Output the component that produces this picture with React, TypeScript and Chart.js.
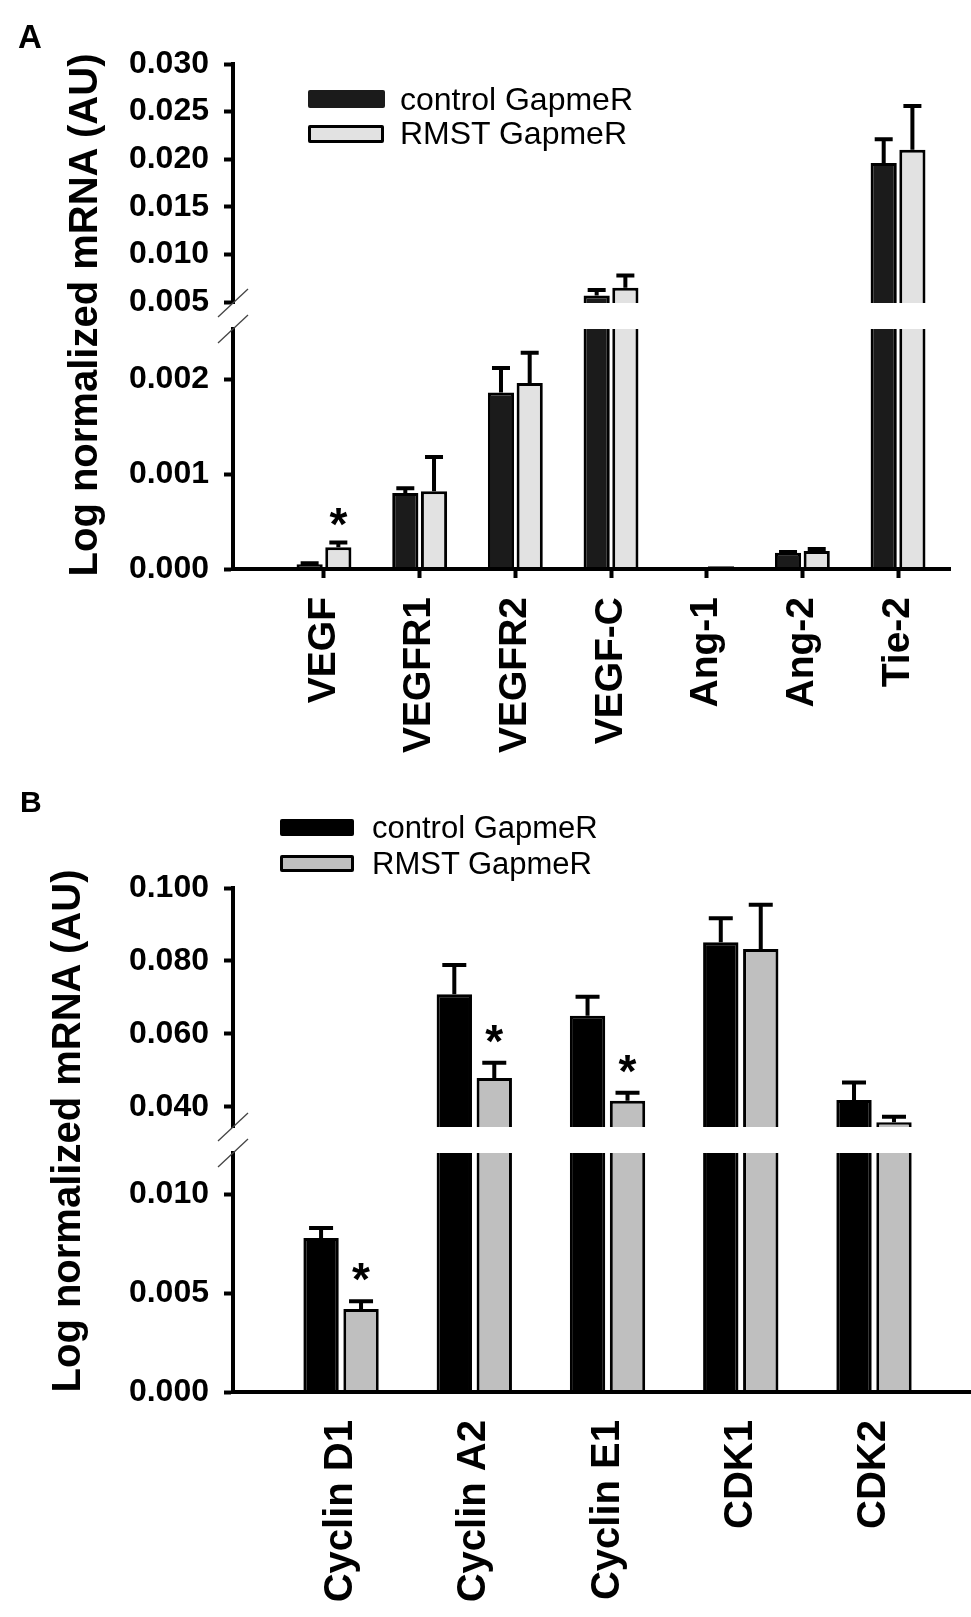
import { useEffect, useRef } from "react";
import Chart from "chart.js/auto";

// ---------- panel A: angiogenic factors ----------
const genesA = ["VEGF", "VEGFR1", "VEGFR2", "VEGF-C", "Ang-1", "Ang-2", "Tie-2"];
const controlA = [0.00005, 0.0008, 0.00186, 0.0057, 0.00002, 0.00017, 0.0196];
const controlErrA = [0.00001, 0.00005, 0.00026, 0.00056, 0, 0.00001, 0.0025];
const rmstA = [0.00023, 0.00082, 0.00196, 0.0065, 0.00003, 0.00019, 0.021];
const rmstErrA = [0.00005, 0.00036, 0.00032, 0.0013, 0, 0.00002, 0.0046];
const starsA = [true, false, false, false, false, false, false];
const topTicksA = [0.005, 0.01, 0.015, 0.02, 0.025, 0.03];
const bottomTicksA = [0, 0.001, 0.002];

// ---------- panel B: cell cycle genes ----------
const genesB = ["Cyclin D1", "Cyclin A2", "Cyclin E1", "CDK1", "CDK2"];
const controlB = [0.0078, 0.0709, 0.065, 0.0851, 0.0419];
const controlErrB = [0.0005, 0.008, 0.0052, 0.0066, 0.0048];
const rmstB = [0.0042, 0.0479, 0.0417, 0.0833, 0.0358];
const rmstErrB = [0.0004, 0.0042, 0.0022, 0.0121, 0.0015];
const starsB = [true, true, true, false, false];
const topTicksB = [0.04, 0.06, 0.08, 0.1];
const bottomTicksB = [0, 0.005, 0.01];

const FONT = '"Liberation Sans", Arial, Helvetica, sans-serif';
const AXIS_TITLE = "Log normalized mRNA (AU)";

interface Segment {
  min: number;
  max: number;
  ticks: number[];
}

interface Look {
  top: number;
  height: number;
  padTop: number;
  padRight: number;
  yWidth: number;
  xHeight: number;
  weights: [number, number, number];
  xPadLeft: number;
  xPadRight: number;
  catPct: number;
  barPct: number;
  ctrlFill: string;
  rmstFill: string;
  labelSize: number;
  labelPad: number;
  xTicks: boolean;
  cap: number;
  starLift: number;
}

interface PanelProps {
  genes: string[];
  control: number[];
  controlErr: number[];
  rmst: number[];
  rmstErr: number[];
  stars: boolean[];
  upper: Segment;
  lower: Segment;
  look: Look;
}

function BrokenBarPanel(props: PanelProps) {
  const canvasRef = useRef<HTMLCanvasElement | null>(null);
  const { look } = props;

  useEffect(() => {
    const canvas = canvasRef.current;
    if (!canvas) return;
    const { genes, control, controlErr, rmst, rmstErr, stars, upper, lower } = props;
    const n = genes.length;

    const points = (vals: (number | null)[]) => vals.map((y, i) => ({ x: i + 1, y }));
    const lowerPart = (vals: number[]) => vals.map((v) => Math.min(v, lower.max));
    const upperPart = (vals: number[]) => vals.map((v) => (v >= upper.min ? v : null));
    // bars cut by the axis break lose their top edge in the lower segment
    const cutBorder = (vals: number[]) => (ctx: any) =>
      vals[ctx.dataIndex] > lower.max ? { left: 3, right: 3, top: 0, bottom: 0 } : 3;

    const common = {
      borderColor: "#000",
      categoryPercentage: look.catPct,
      barPercentage: look.barPct,
      borderSkipped: "start" as const,
    };

    const yScale = (seg: Segment, weight: number, stackWeight: number) => ({
      type: "linear" as const,
      position: "left" as const,
      stack: "y",
      stackWeight,
      weight,
      stacked: false,
      min: seg.min,
      max: seg.max,
      afterBuildTicks: (s: any) => {
        s.ticks = seg.ticks.map((value) => ({ value }));
      },
      afterFit: (s: any) => {
        s.width = look.yWidth;
      },
      ticks: {
        autoSkip: false,
        padding: 15,
        color: "#000",
        font: { family: FONT, size: 32, weight: "bold" as const },
        callback: (v: any) => Number(v).toFixed(3),
      },
      grid: { drawOnChartArea: false, tickLength: 9, tickWidth: 4, tickColor: "#000" },
      border: { display: true, color: "#000", width: 4 },
    });

    const overlay = {
      id: "errorBarsAndBreaks",
      afterDatasetsDraw(chart: any) {
        const ctx = chart.ctx as CanvasRenderingContext2D;
        const series = [
          { vals: control, errs: controlErr, low: 0, high: 2, marks: null as boolean[] | null },
          { vals: rmst, errs: rmstErr, low: 1, high: 3, marks: stars },
        ];
        ctx.save();
        ctx.strokeStyle = "#000";
        ctx.fillStyle = "#000";
        ctx.lineWidth = 4;
        for (const s of series) {
          s.vals.forEach((v, i) => {
            const onTop = v >= upper.min;
            const meta = chart.getDatasetMeta(onTop ? s.high : s.low);
            const bar = meta.data[i];
            if (!bar) return;
            const scale = chart.scales[onTop ? "yTop" : "yBot"];
            const x = bar.x;
            const yBar = scale.getPixelForValue(v);
            const yErr = scale.getPixelForValue(v + s.errs[i]);
            if (s.errs[i] > 0) {
              ctx.beginPath();
              ctx.moveTo(x, yBar);
              ctx.lineTo(x, yErr);
              ctx.moveTo(x - look.cap / 2, yErr);
              ctx.lineTo(x + look.cap / 2, yErr);
              ctx.stroke();
            }
            if (s.marks && s.marks[i]) {
              ctx.font = `bold 46px ${FONT}`;
              ctx.textAlign = "center";
              ctx.textBaseline = "alphabetic";
              ctx.fillText("*", x, yErr - look.starLift);
            }
          });
        }
        // axis break marks
        const { yTop, yBot } = chart.scales;
        const x0 = chart.chartArea.left;
        ctx.strokeStyle = "#444";
        ctx.lineWidth = 1.3;
        for (const y of [yTop.bottom, yBot.top]) {
          ctx.beginPath();
          ctx.moveTo(x0 - 15, y + 14);
          ctx.lineTo(x0 + 15, y - 14);
          ctx.stroke();
        }
        ctx.restore();
      },
    };

    const chart = new Chart(canvas, {
      type: "bar",
      data: {
        datasets: [
          {
            label: "control GapmeR",
            data: points(lowerPart(control)),
            yAxisID: "yBot",
            stack: "ctrl",
            backgroundColor: look.ctrlFill,
            borderWidth: cutBorder(control),
            ...common,
          },
          {
            label: "RMST GapmeR",
            data: points(lowerPart(rmst)),
            yAxisID: "yBot",
            stack: "rmst",
            backgroundColor: look.rmstFill,
            borderWidth: cutBorder(rmst),
            ...common,
          },
          {
            label: "control GapmeR (upper)",
            data: points(upperPart(control)),
            yAxisID: "yTop",
            stack: "ctrl",
            base: upper.min,
            backgroundColor: look.ctrlFill,
            borderWidth: 3,
            ...common,
          },
          {
            label: "RMST GapmeR (upper)",
            data: points(upperPart(rmst)),
            yAxisID: "yTop",
            stack: "rmst",
            base: upper.min,
            backgroundColor: look.rmstFill,
            borderWidth: 3,
            ...common,
          },
        ] as any,
      },
      options: {
        responsive: false,
        animation: false,
        layout: { padding: { top: look.padTop, right: look.padRight, left: 0, bottom: 0 } },
        plugins: {
          legend: { display: false },
          tooltip: { enabled: false },
        },
        scales: {
          x: {
            type: "linear",
            position: "bottom",
            offset: false,
            min: 1 - look.xPadLeft,
            max: n + look.xPadRight,
            afterBuildTicks: (s: any) => {
              s.ticks = genes.map((_, i) => ({ value: i + 1 }));
            },
            afterFit: (s: any) => {
              s.height = look.xHeight;
            },
            ticks: {
              autoSkip: false,
              maxRotation: 90,
              minRotation: 90,
              padding: look.labelPad,
              color: "#000",
              font: { family: FONT, size: look.labelSize, weight: "bold" },
              callback: (_v: any, i: number) => genes[i],
            },
            grid: {
              display: look.xTicks,
              offset: false,
              drawOnChartArea: false,
              drawTicks: look.xTicks,
              tickLength: 9,
              tickWidth: 4,
              tickColor: "#000",
            },
            border: { display: true, color: "#000", width: 4, z: 1 },
          },
          yTop: yScale(upper, 3, look.weights[0]),
          yGap: {
            type: "linear",
            position: "left",
            stack: "y",
            stackWeight: look.weights[1],
            weight: 2,
            min: 0,
            max: 1,
            afterFit: (s: any) => {
              s.width = look.yWidth;
            },
            ticks: { display: false },
            grid: { display: false, drawTicks: false },
            border: { display: false },
          },
          yBot: yScale(lower, 1, look.weights[2]),
        } as any,
      },
      plugins: [overlay],
    });

    return () => {
      chart.destroy();
    };
  }, []);

  return (
    <div style={{ position: "absolute", left: 0, top: look.top, width: 971, height: look.height }}>
      <canvas ref={canvasRef} width={971} height={look.height} style={{ width: 971, height: look.height }} />
    </div>
  );
}

const lookA: Look = {
  top: 0,
  height: 770,
  padTop: 64,
  padRight: 21,
  yWidth: 233,
  xHeight: 201,
  weights: [239, 26, 240],
  xPadLeft: 0.951,
  xPadRight: 0.543,
  catPct: 0.6,
  barPct: 0.912,
  ctrlFill: "#1b1b1b",
  rmstFill: "#e2e2e2",
  labelSize: 39,
  labelPad: 19,
  xTicks: true,
  cap: 18,
  starLift: 2,
};

const lookB: Look = {
  top: 770,
  height: 847,
  padTop: 118,
  padRight: 0,
  yWidth: 233,
  xHeight: 225,
  weights: [239, 26, 239],
  xPadLeft: 0.811,
  xPadRight: 0.728,
  catPct: 0.6,
  barPct: 0.885,
  ctrlFill: "#000000",
  rmstFill: "#bfbfbf",
  labelSize: 40,
  labelPad: 28,
  xTicks: false,
  cap: 24,
  starLift: 6,
};

function LegendBox(props: { left: number; top: number; w: number; h: number; fill: string; outlined: boolean }) {
  return (
    <div
      style={{
        position: "absolute",
        left: props.left,
        top: props.top,
        width: props.w,
        height: props.h,
        background: props.fill,
        border: props.outlined ? "3px solid #000" : "none",
        boxSizing: "border-box",
        borderRadius: 2,
      }}
    />
  );
}

function Label(props: { left: number; top: number; size: number; bold?: boolean; text: string }) {
  return (
    <div
      style={{
        position: "absolute",
        left: props.left,
        top: props.top,
        fontSize: props.size,
        lineHeight: 1,
        fontWeight: props.bold ? "bold" : "normal",
        whiteSpace: "nowrap",
      }}
    >
      {props.text}
    </div>
  );
}

function AxisTitle(props: { cx: number; cy: number }) {
  return (
    <div
      style={{
        position: "absolute",
        left: props.cx - 300,
        top: props.cy - 25,
        width: 600,
        height: 50,
        lineHeight: "50px",
        fontSize: 40,
        fontWeight: "bold",
        textAlign: "center",
        whiteSpace: "nowrap",
        transform: "rotate(-90deg)",
      }}
    >
      {AXIS_TITLE}
    </div>
  );
}

export default function App() {
  return (
    <div
      style={{
        position: "absolute",
        left: 0,
        top: 0,
        width: 971,
        height: 1617,
        background: "#fff",
        color: "#000",
        fontFamily: FONT,
        overflow: "hidden",
      }}
    >
      <BrokenBarPanel
        genes={genesA}
        control={controlA}
        controlErr={controlErrA}
        rmst={rmstA}
        rmstErr={rmstErrA}
        stars={starsA}
        upper={{ min: 0.0049, max: 0.03, ticks: topTicksA }}
        lower={{ min: 0, max: 0.00253, ticks: bottomTicksA }}
        look={lookA}
      />
      <BrokenBarPanel
        genes={genesB}
        control={controlB}
        controlErr={controlErrB}
        rmst={rmstB}
        rmstErr={rmstErrB}
        stars={starsB}
        upper={{ min: 0.0345, max: 0.1, ticks: topTicksB }}
        lower={{ min: 0, max: 0.0121, ticks: bottomTicksB }}
        look={lookB}
      />

      <Label left={18} top={20} size={33} bold text="A" />
      <AxisTitle cx={83} cy={315} />
      <LegendBox left={308} top={90} w={77} h={18} fill="#1b1b1b" outlined={false} />
      <LegendBox left={308} top={125} w={76} h={18} fill="#e2e2e2" outlined />
      <Label left={400} top={83} size={32} text="control GapmeR" />
      <Label left={400} top={117} size={32} text="RMST GapmeR" />

      <Label left={20} top={787} size={30} bold text="B" />
      <AxisTitle cx={66} cy={1131} />
      <LegendBox left={280} top={819} w={74} h={17} fill="#000" outlined={false} />
      <LegendBox left={280} top={855} w={74} h={17} fill="#bfbfbf" outlined />
      <Label left={372} top={812} size={31} text="control GapmeR" />
      <Label left={372} top={848} size={31} text="RMST GapmeR" />
    </div>
  );
}
